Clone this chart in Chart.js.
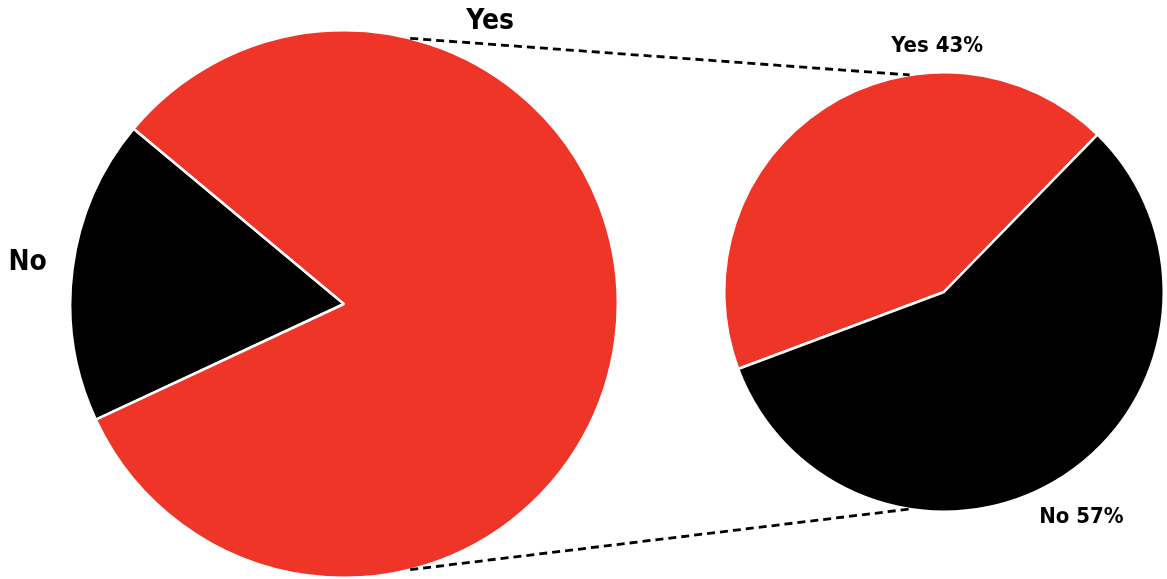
<!DOCTYPE html>
<html>
<head>
<meta charset="utf-8">
<script src="https://cdn.jsdelivr.net/npm/chart.js@4.4.0/dist/chart.umd.min.js"></script>
<style>
    html, body { margin: 0; padding: 0; background: #fff; }
    #wrap { position: relative; width: 1167px; height: 579px; overflow: hidden; }
    #wrap canvas { position: absolute; }
</style>
</head>
<body>
<div id="wrap">
    <canvas id="bigPie" width="550" height="550" style="left:69px;top:29px"></canvas>
    <canvas id="smallPie" width="442" height="442" style="left:723px;top:71px"></canvas>
    <canvas id="overlay" width="1167" height="579" style="left:0;top:0;pointer-events:none"></canvas>
</div>
<script>
// data
const bigLabels = ['No', 'Yes'];
const bigValues = [18, 82];
const smallLabels = ['Yes', 'No'];
const smallValues = [43, 57];
const sliceColors = { Yes: '#ee3527', No: '#000000' };

const FONT = '"Liberation Sans Narrow", "DejaVu Sans Condensed", Roboto, sans-serif';

function makePie(id, labels, values, rotation) {
    const ctx = document.getElementById(id).getContext('2d');
    return new Chart(ctx, {
        type: 'pie',
        data: {
            labels: labels,
            datasets: [{
                data: values,
                backgroundColor: labels.map(l => sliceColors[l]),
                borderColor: '#ffffff',
                borderWidth: 2.5
            }]
        },
        options: {
            responsive: false,
            animation: false,
            rotation: rotation,
            layout: { padding: 0 },
            plugins: {
                legend: { display: false },
                tooltip: { enabled: false }
            }
        }
    });
}

const bigChart = makePie('bigPie', bigLabels, bigValues, 245);
const smallChart = makePie('smallPie', smallLabels, smallValues, 249.5);

// geometry of a pie in page coordinates
function pieInfo(chart) {
    const arc = chart.getDatasetMeta(0).data[0];
    const el = chart.canvas;
    return { x: el.offsetLeft + arc.x, y: el.offsetTop + arc.y, r: arc.outerRadius };
}
function midAngle(chart, i) {
    const arc = chart.getDatasetMeta(0).data[i];
    return (arc.startAngle + arc.endAngle) / 2;
}
function at(p, angDeg, k) {
    const a = angDeg * Math.PI / 180;
    return [p.x + Math.cos(a) * p.r * k, p.y + Math.sin(a) * p.r * k];
}

// connectors + labels
const big = pieInfo(bigChart);
const small = pieInfo(smallChart);
const ov = document.getElementById('overlay').getContext('2d');

ov.strokeStyle = '#000';
ov.lineWidth = 2.8;
ov.setLineDash([8, 5]);
[[-76, -99], [76, 99]].forEach(([a1, a2]) => {
    const p1 = at(big, a1, 1.0);
    const p2 = at(small, a2, 1.0);
    ov.beginPath();
    ov.moveTo(p1[0], p1[1]);
    ov.lineTo(p2[0], p2[1]);
    ov.stroke();
});
ov.setLineDash([]);

ov.fillStyle = '#000';
ov.textAlign = 'center';
ov.textBaseline = 'middle';

function label(text, p, angRad, k, size) {
    ov.font = 'bold ' + size + 'px ' + FONT;
    const x = p.x + Math.cos(angRad) * p.r * k;
    const y = p.y + Math.sin(angRad) * p.r * k;
    ov.fillText(text, x, y);
}
// big pie: "No" at slice middle, "Yes" up top
label(bigLabels[0], big, midAngle(bigChart, 0), 1.165, 28);
label(bigLabels[1], big, -62.6 * Math.PI / 180, 1.16, 28);
// small pie with percentages
const tot = smallValues.reduce((a, b) => a + b, 0);
label(smallLabels[0] + ' ' + Math.round(smallValues[0] / tot * 100) + '%', small, -91.6 * Math.PI / 180, 1.12, 22);
label(smallLabels[1] + ' ' + Math.round(smallValues[1] / tot * 100) + '%', small, 58.6 * Math.PI / 180, 1.2, 22);
</script>
</body>
</html>
